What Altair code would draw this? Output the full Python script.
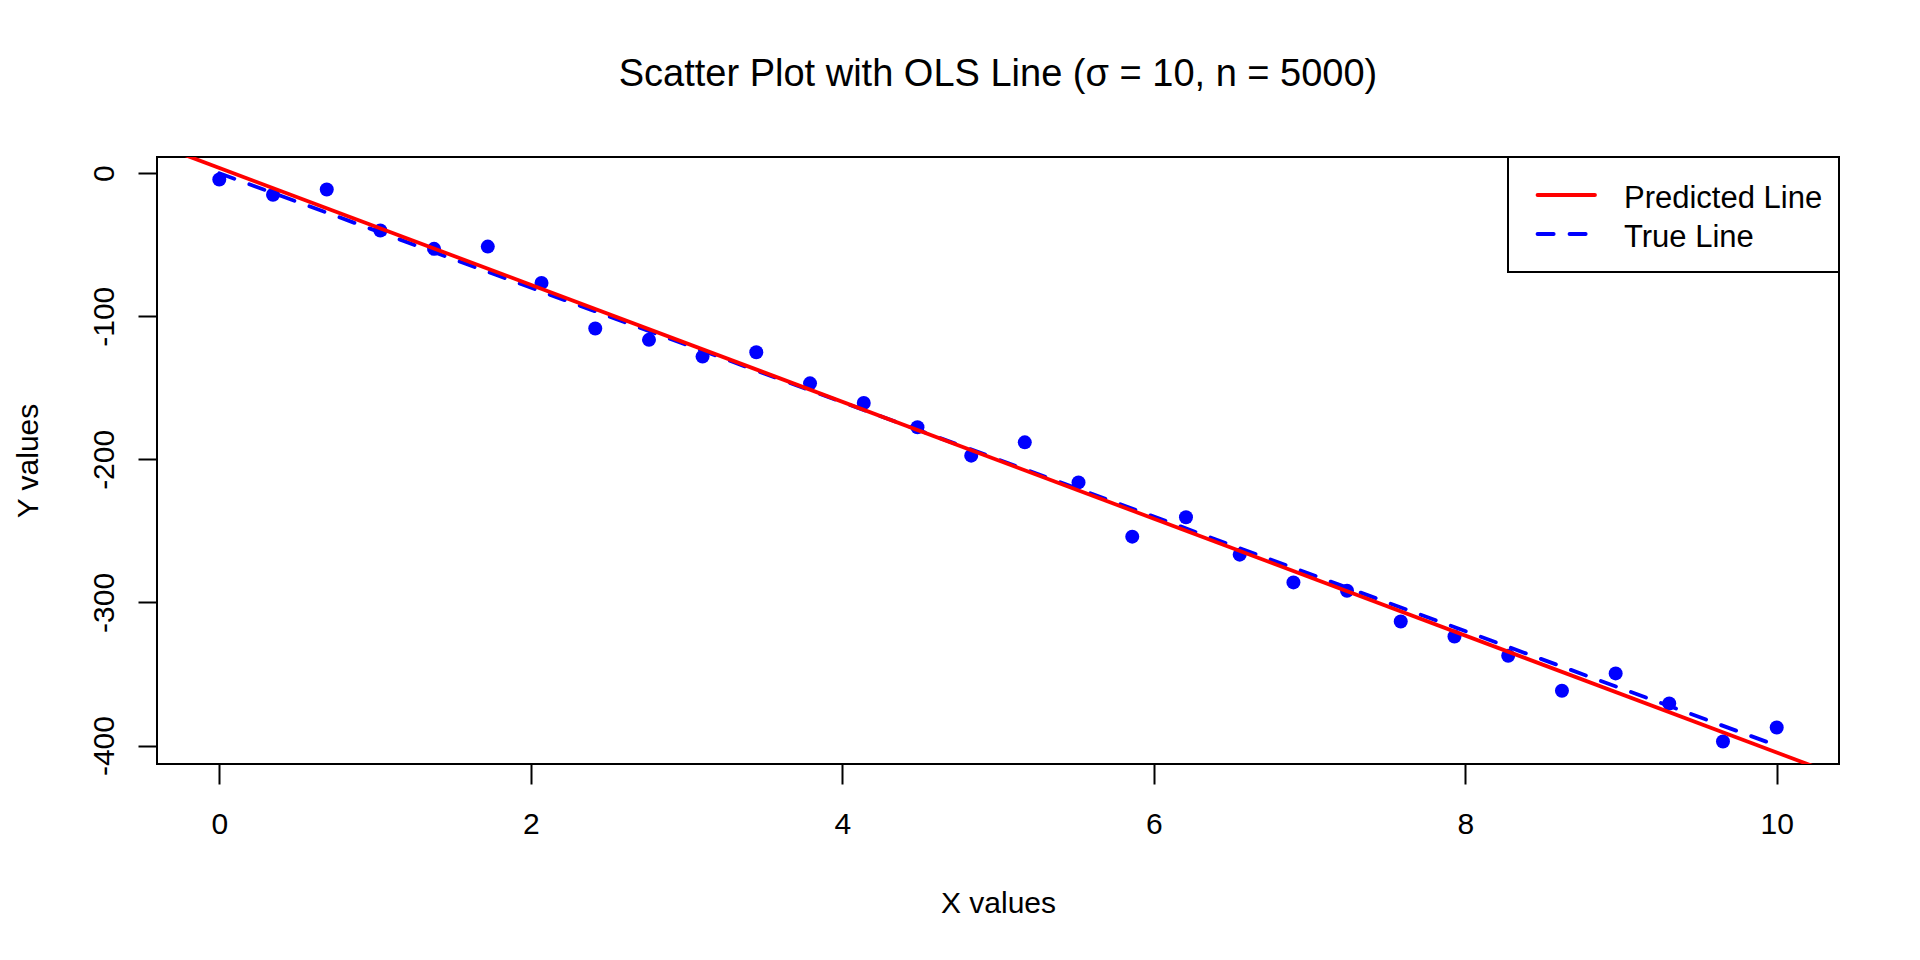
import altair as alt
import pandas as pd

# ---- data ----
x_vals = [0.000, 0.345, 0.690, 1.034, 1.379, 1.724, 2.069, 2.414, 2.759, 3.103,
          3.448, 3.793, 4.138, 4.483, 4.828, 5.172, 5.517, 5.862, 6.207, 6.552,
          6.897, 7.241, 7.586, 7.931, 8.276, 8.621, 8.966, 9.310, 9.655, 10.000]
y_vals = [-4.4, -15.1, -11.4, -40.1, -52.9, -51.3, -76.7, -108.6, -116.5, -128.2,
          -125.2, -146.9, -160.6, -177.6, -197.4, -188.1, -216.1, -254.0, -240.5, -266.6,
          -286.0, -291.8, -313.3, -323.8, -337.3, -361.7, -349.6, -370.6, -397.2, -387.4]
true_x = [0, 10]
true_y = [0, -400]
pred_x = [-0.4, 10.4]
pred_y = [20.0, -421.2]
x_ticks = [0, 2, 4, 6, 8, 10]
y_ticks = [-400, -300, -200, -100, 0]
legend_labels = ["Predicted Line", "True Line"]
title_text = "Scatter Plot with OLS Line (\u03c3 = 10, n = 5000)"

FONT = "Liberation Sans"
W, H = 1682, 607
BLUE = "#0000FF"
RED = "#FF0000"

xs = alt.Scale(domain=[-0.4, 10.4], nice=False, zero=False)
ys = alt.Scale(domain=[-412.9, 11.3], nice=False, zero=False)

x_axis = alt.Axis(values=x_ticks, title="X values", grid=False, domain=False,
                  tickSize=20, tickWidth=2, tickColor="black",
                  labelFont=FONT, labelFontSize=30, labelColor="black", labelPadding=25,
                  labelFlush=False, labelOverlap=False,
                  titleFont=FONT, titleFontSize=30, titleFontWeight="normal", titleColor="black",
                  titleX=W / 2, titleY=148, titleAlign="center", titleBaseline="alphabetic")
y_axis = alt.Axis(values=y_ticks, title="Y values", grid=False, domain=False,
                  tickSize=19, tickWidth=2, tickColor="black",
                  labelFont=FONT, labelFontSize=30, labelColor="black", labelPadding=25,
                  labelAngle=270, labelAlign="center", labelBaseline="alphabetic",
                  labelFlush=False, labelOverlap=False,
                  labelExpr="'' + datum.value",
                  titleFont=FONT, titleFontSize=30, titleFontWeight="normal", titleColor="black",
                  titleAngle=270, titleX=-120, titleY=H / 2, titleAlign="center",
                  titleBaseline="alphabetic")

pts = pd.DataFrame({"x": x_vals, "y": y_vals})
true_df = pd.DataFrame({"x": true_x, "y": true_y})
pred_df = pd.DataFrame({"x": pred_x, "y": pred_y})

X = alt.X("x:Q", scale=xs, axis=x_axis)
Y = alt.Y("y:Q", scale=ys, axis=y_axis)

points = alt.Chart(pts).mark_circle(size=196, color=BLUE, opacity=1).encode(x=X, y=Y)
true_line = alt.Chart(true_df).mark_line(color=BLUE, strokeWidth=3.8, strokeDash=[16, 16],
                                         strokeCap="round").encode(x=X, y=Y)
pred_line = alt.Chart(pred_df).mark_line(color=RED, strokeWidth=3.8, clip=True).encode(x=X, y=Y)

one = alt.InlineData(values=[{"k": 0}])
legend_box = alt.Chart(one).mark_rect(fill="white", stroke="black", strokeWidth=2).encode(
    x=alt.value(1351), x2=alt.value(1682), y=alt.value(0), y2=alt.value(115))
leg_red = alt.Chart(one).mark_rule(color=RED, strokeWidth=4, strokeCap="round").encode(
    x=alt.value(1380.6), x2=alt.value(1437.9), y=alt.value(38))
leg_blue = alt.Chart(one).mark_rule(color=BLUE, strokeWidth=4, strokeCap="round",
                                    strokeDash=[16, 16]).encode(
    x=alt.value(1380.6), x2=alt.value(1437.9), y=alt.value(77))
leg_t1 = alt.Chart(alt.InlineData(values=[{"label": legend_labels[0]}])).mark_text(
    font=FONT, fontSize=31, align="left", baseline="alphabetic", color="black").encode(
    text="label:N", x=alt.value(1467), y=alt.value(51.3))
leg_t2 = alt.Chart(alt.InlineData(values=[{"label": legend_labels[1]}])).mark_text(
    font=FONT, fontSize=31, align="left", baseline="alphabetic", color="black").encode(
    text="label:N", x=alt.value(1467), y=alt.value(90.3))

chart = alt.layer(points, true_line, pred_line, legend_box, leg_red, leg_blue, leg_t1, leg_t2).properties(
    width=W, height=H,
    background="white",
    title=alt.TitleParams(text=title_text, font=FONT, fontSize=38, fontWeight="normal",
                          color="black", anchor="middle", baseline="alphabetic",
                          offset=32, frame="group"),
    autosize=alt.AutoSizeParams(type="none"),
    padding={"left": 149, "top": 149, "right": 70, "bottom": 180},
).configure_view(stroke="black", strokeWidth=2)

chart.save("out.html", embed_options={"renderer": "svg", "actions": False})
